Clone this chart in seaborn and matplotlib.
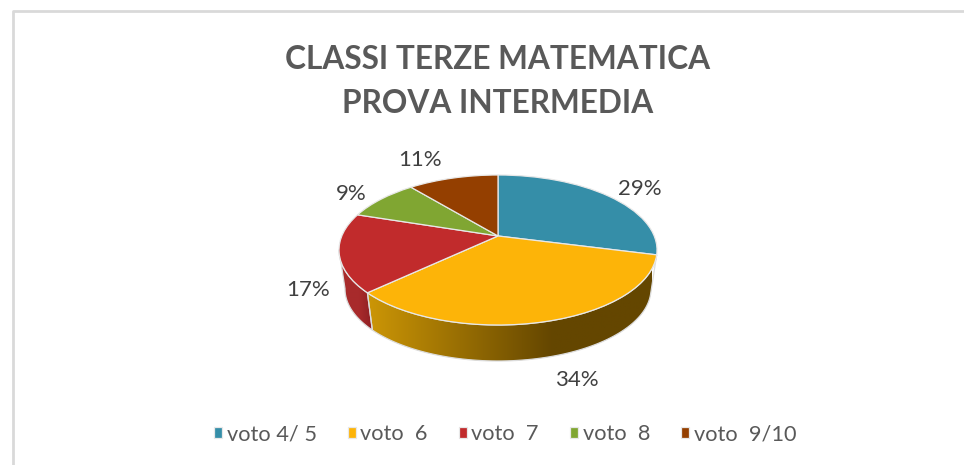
import numpy as np
import matplotlib
matplotlib.use("Agg")
import matplotlib.pyplot as plt
import seaborn as sns
from matplotlib.colors import LinearSegmentedColormap
from matplotlib.patches import Polygon
from matplotlib.transforms import Transform

title = "CLASSI TERZE MATEMATICA\nPROVA INTERMEDIA"
labels = ["voto 4/ 5", "voto  6", "voto  7", "voto  8", "voto  9/10"]
values = [29, 34, 17, 9, 11]
colors = ["#358EA8", "#FDB408", "#C12B2C", "#80A632", "#943F00"]

sns.set_theme(style="white")
plt.rcParams["font.family"] = ["Lato", "DejaVu Sans"]


# tilts the flat unit pie into the perspective ellipse, in pixel coordinates
class PieTilt(Transform):
    input_dims = 2
    output_dims = 2

    def __init__(self, cx, cy, rx, ry, k):
        super().__init__()
        self.cx, self.cy, self.rx, self.ry, self.k = cx, cy, rx, ry, k

    def transform_non_affine(self, values):
        u, v = values[:, 0], values[:, 1]
        w = 1 + self.k * v
        x = self.cx + self.rx * np.sqrt(1 - self.k ** 2) * u / w
        y = self.cy - self.ry * (v + self.k) / w
        return np.column_stack([x, y])


top_rim = PieTilt(498, 250, 159, 75, 0.187)
bottom_rim = PieTilt(498, 289, 153, 72, 0.187)


def rim_points(rim, a0, a1):
    ang = np.radians(np.linspace(a0, a1, 80))
    return rim.transform_non_affine(np.column_stack([np.sin(ang), np.cos(ang)]))


fig, ax = plt.subplots(figsize=(9.64, 4.65), dpi=100)
fig.subplots_adjust(0, 0, 1, 1)

wedges, _, pct_texts = ax.pie(
    values, colors=colors, startangle=90, counterclock=False, autopct="%.0f%%",
    wedgeprops={"edgecolor": "#e8e8e8", "linewidth": 0.9}, textprops={"fontsize": 16, "color": "#404040"},
)
ax.set_aspect("auto")
for w in wedges:
    w.set_transform(top_rim + ax.transData)
    w.set_zorder(3)

for t, pos in zip(pct_texts, [(640, 189), (577, 380), (308, 290), (351, 194), (420, 160)]):
    t.set_position(pos)
    t.set_ha("center")
    t.set_va("center")

# side wall, only the front part of the yellow and red slices shows
ends = np.cumsum(values) * 3.6
walls = [
    (ends[0], ends[1], 368, 652, [(0, "#CC9606"), (0.65, "#644600"), (1, "#644600")]),
    (ends[1], 259.5, 340, 372, [(0, "#A82C2C"), (0.6, "#A82A2B"), (1, "#8F2024")]),
]
for a0, a1, x0, x1, stops in walls:
    cmap = LinearSegmentedColormap.from_list("wall", stops)
    im = ax.imshow(np.linspace(0, 1, 256).reshape(1, -1), extent=[x0, x1, 365, 240], cmap=cmap, aspect="auto", zorder=1)
    pts = np.vstack([rim_points(top_rim, a0, a1), rim_points(bottom_rim, a1, a0)])
    outline = Polygon(pts, closed=True, transform=ax.transData, facecolor="none", edgecolor="#dcdcdc", linewidth=0.9, zorder=2)
    ax.add_patch(outline)
    im.set_clip_path(outline)

# chart frame, only top and left reach the crop
ax.plot([13, 13, 964], [465, 11, 11], color="#d9d9d9", linewidth=2, zorder=0)

ax.text(498, 81.5, title, ha="center", va="center", fontsize=22.8, fontweight="bold", color="#595959", linespacing=1.6)

ax.legend(
    wedges, labels, loc="center", bbox_to_anchor=(505 / 964, 1 - 434 / 465), ncols=5, frameon=False, fontsize=15.7,
    handlelength=0.38, handleheight=0.38, handletextpad=0.2, columnspacing=1.42, labelcolor="#595959",
)

ax.set_xlim(0, 964)
ax.set_ylim(465, 0)
fig.savefig("out.png", dpi=100)
